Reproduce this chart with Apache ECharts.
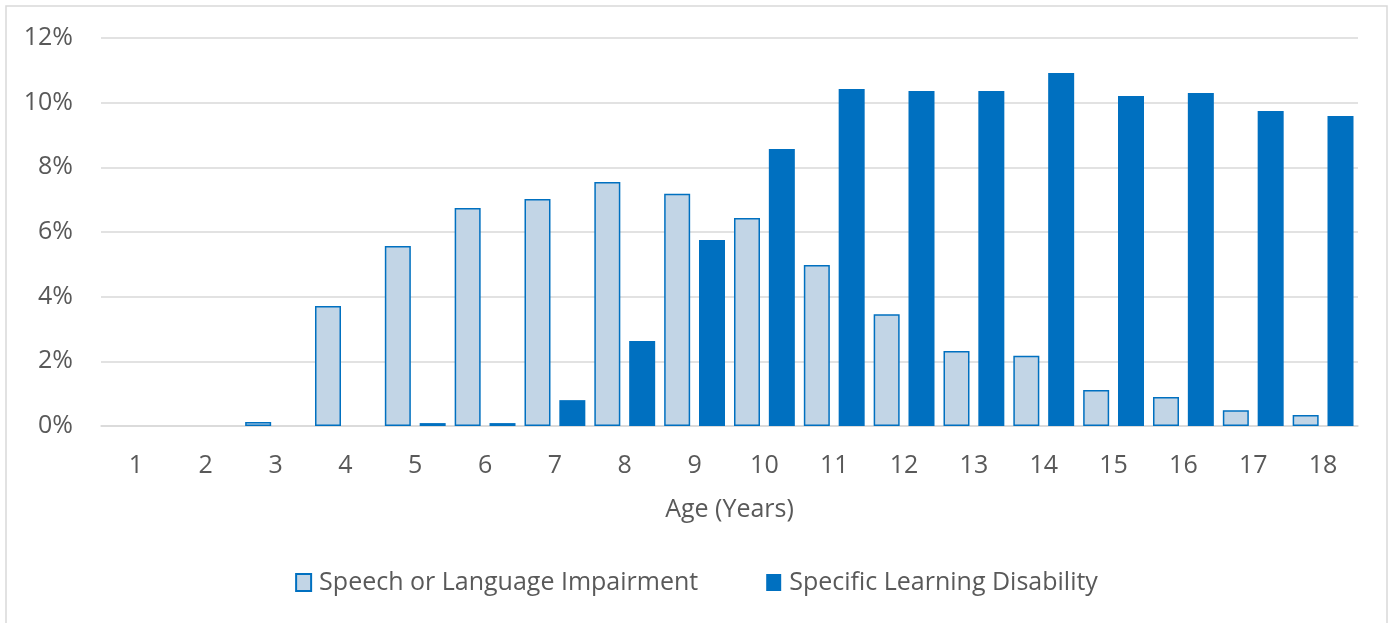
<!DOCTYPE html>
<html>
<head>
<meta charset="utf-8">
<script src="https://cdn.jsdelivr.net/npm/echarts@6/dist/echarts.min.js"></script>
<style>
html,body{margin:0;padding:0;background:#fff;}
#c{width:1393px;height:623px;}
</style>
</head>
<body>
<div id="c"></div>
<script>
const categories = ['1','2','3','4','5','6','7','8','9','10','11','12','13','14','15','16','17','18'];
const speechValues = [0, 0, 0.12, 3.71, 5.57, 6.74, 7.02, 7.55, 7.18, 6.43, 4.98, 3.46, 2.32, 2.17, 1.11, 0.90, 0.49, 0.34];
const learningValues = [0, 0, 0, 0, 0.09, 0.09, 0.80, 2.63, 5.75, 8.57, 10.42, 10.36, 10.36, 10.92, 10.21, 10.30, 9.74, 9.59];
const seriesNames = ['Speech or Language Impairment', 'Specific Learning Disability'];
const xAxisTitle = 'Age (Years)';

const font = '"Open Sans", "Noto Sans", sans-serif';
const txt = '#595959';
const hideZero = arr => arr.map(v => (v === 0 ? null : v));
const chart = echarts.init(document.getElementById('c'), null, {renderer: 'canvas'});
chart.setOption({
  animation: false,
  backgroundColor: '#fff',
  textStyle: {fontFamily: font},
  graphic: [{
    type: 'rect', shape: {x: 6, y: 6, width: 1381, height: 640},
    style: {fill: 'none', stroke: '#d9d9d9', lineWidth: 1.5}, silent: true
  }],
  grid: {left: 101, right: 35, top: 38, bottom: 197, containLabel: false},
  legend: {
    top: 565, left: 'center',
    icon: 'rect',
    itemWidth: 15, itemHeight: 17, itemGap: 68,
    textStyle: {fontFamily: font, fontSize: 25, color: txt, padding: [0, 0, 0, 3]},
    data: seriesNames
  },
  xAxis: {
    type: 'category', data: categories,
    name: xAxisTitle, nameLocation: 'middle', nameGap: 71,
    nameTextStyle: {fontFamily: font, fontSize: 25, color: txt},
    axisLine: {lineStyle: {color: '#d9d9d9', width: 1.5}},
    axisTick: {show: false},
    axisLabel: {fontFamily: font, fontSize: 25, color: txt, margin: 27}
  },
  yAxis: {
    type: 'value', min: 0, max: 12, interval: 2,
    axisLine: {show: false}, axisTick: {show: false},
    splitLine: {lineStyle: {color: '#d9d9d9', width: 1.5}},
    axisLabel: {fontFamily: font, fontSize: 25, color: txt, margin: 28, formatter: '{value}%'}
  },
  series: [{
    name: seriesNames[0], type: 'bar', data: hideZero(speechValues),
    barWidth: 26, barGap: '34%',
    itemStyle: {color: '#c2d5e6', borderColor: '#0070c0', borderWidth: 1.5}
  }, {
    name: seriesNames[1], type: 'bar', data: hideZero(learningValues),
    barWidth: 26,
    itemStyle: {color: '#0070c0'}
  }]
});
</script>
</body>
</html>
